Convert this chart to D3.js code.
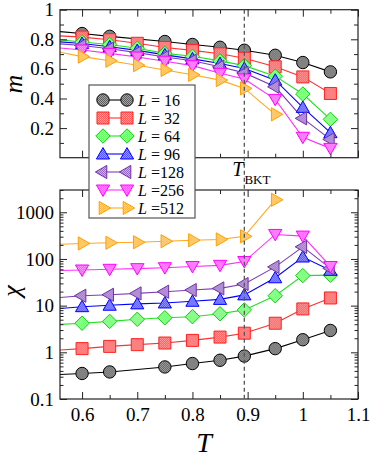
<!DOCTYPE html>
<html>
<head>
    <title>m and chi vs T</title>
    <script src="https://cdn.jsdelivr.net/npm/d3@7/dist/d3.min.js"></script>
    <style>
        body { margin: 0; background: #fff; }
        svg text { font-family: "Liberation Serif", Tinos, "Times New Roman", serif; fill: #000; }
    </style>
</head>
<body>
    <svg width="374" height="458" id="mainSvg"></svg>
    <script>
        // temperatures (first one lies left of the visible window)
        const temps = [0.55, 0.6, 0.65, 0.7, 0.75, 0.8, 0.85, 0.894, 0.95, 1.0, 1.05];
        const sizes = [16, 32, 64, 96, 128, 256, 512];
        const tBKT = 0.894;

        // magnetisation m(T)
        const m16  = [0.855, 0.839, 0.82, null, 0.785, 0.765, 0.746, 0.726, 0.692, 0.643, 0.58];
        const m32  = [0.825, 0.815, 0.797, 0.773, 0.745, 0.725, 0.702, 0.672, 0.614, 0.546, 0.434];
        const m64  = [0.80, 0.782, 0.765, 0.74, 0.705, 0.685, 0.654, 0.622, 0.551, 0.43, 0.259];
        const m96  = [0.785, 0.772, 0.75, 0.725, 0.695, 0.668, 0.636, 0.603, 0.524, 0.34, 0.169];
        const m128 = [0.772, 0.758, 0.736, 0.71, 0.68, 0.655, 0.614, 0.573, 0.479, 0.266, 0.124];
        const m256 = [0.745, 0.728, 0.705, 0.68, 0.652, 0.622, 0.57, 0.532, 0.394, 0.138, 0.063];
        const m512 = [0.72, 0.683, 0.655, 0.625, 0.593, 0.56, 0.524, 0.468, 0.293, null, null];

        // susceptibility chi(T)
        const c16  = [0.33, 0.352, 0.38, null, 0.486, 0.575, 0.676, 0.83, 1.2, 1.86, 2.94];
        const c32  = [1.1, 1.2, 1.34, 1.46, 1.58, 1.8, 2.12, 2.57, 4.2, 8.5, 14.6];
        const c64  = [3.9, 4.2, 4.6, 5.1, 5.5, 5.8, 6.7, 8.1, 16.3, 44, 45];
        const c96  = [8.5, 9.5, 10.2, 10.9, 11.4, 12.4, 13.6, 17, 39.5, 110, 57];
        const c128 = [14.6, 16.3, 17.1, 18.3, 19.9, 21.6, 23.4, 29, 67.6, 182, 63];
        const c256 = [56, 58, 60, 62, 65, 69, 73, 88, 335, 309, 69];
        const c512 = [205, 215, 222, 228, 240, 252, 262, 305, 1850, null, null];

        const mSeries = [m16, m32, m64, m96, m128, m256, m512];
        const cSeries = [c16, c32, c64, c96, c128, c256, c512];

        const shapes = ["circle", "square", "diamond", "up", "left", "down", "right"];
        const lineColors   = ["#000000", "#ff3030", "#22e022", "#0000ff", "#7a3fb8", "#ff30ff", "#ffa820"];
        const strokeColors = ["#000000", "#ff2020", "#11cc11", "#0000ff", "#7030a0", "#ff00ff", "#ffa000"];
        const fillColors   = ["#5e5e5e", "#ff5a5a", "#66ff66", "#5050ff", "#9a6ccc", "#ff55ff", "#ffb840"];

        const serif = '"Liberation Serif", Tinos, "Times New Roman", serif';
        const mainSvg = d3.select("#mainSvg").attr("font-family", serif);
        const left = 60, right = 358;
        const x = d3.scaleLinear().domain([0.56, 1.1]).range([left, right]);
        const yTop = d3.scaleLinear().domain([0, 1]).range([157.7, 9.7]);
        const yBot = d3.scaleLog().domain([0.1, 3000]).range([399, 190]);

        // dithered marker fills
        const defs = mainSvg.append("defs");
        fillColors.forEach((c, i) => {
            const p = defs.append("pattern").attr("id", "dith" + i)
                .attr("width", 2).attr("height", 2).attr("patternUnits", "userSpaceOnUse");
            p.append("rect").attr("width", 2).attr("height", 2).attr("fill", c);
            const light = d3.interpolateRgb(c, "#ffffff")(0.45);
            p.append("rect").attr("width", 1).attr("height", 1).attr("fill", light);
            p.append("rect").attr("x", 1).attr("y", 1).attr("width", 1).attr("height", 1).attr("fill", light);
        });

        function symbol(shape) {
            const r = 6.2, t = 7.6;
            const p = d3.path();
            if (shape === "circle") { p.arc(0, 0, r, 0, 2 * Math.PI); }
            else if (shape === "square") { p.rect(-6, -6, 12, 12); }
            else if (shape === "diamond") { p.moveTo(0, -7.2); p.lineTo(7.2, 0); p.lineTo(0, 7.2); p.lineTo(-7.2, 0); p.closePath(); }
            else {
                const rot = { up: -90, right: 0, down: 90, left: 180 }[shape] * Math.PI / 180;
                [0, 1, 2].forEach(k => {
                    const a = rot + k * 2 * Math.PI / 3;
                    const px = t * Math.cos(a), py = t * Math.sin(a) + (shape === "up" ? 1.2 : shape === "down" ? -1.2 : 0);
                    k === 0 ? p.moveTo(px, py) : p.lineTo(px, py);
                });
                p.closePath();
            }
            return p.toString();
        }

        function panel(yScale, series, id, y0, y1, labelX) {
            const g = mainSvg.append("g");
            defs.append("clipPath").attr("id", id).append("rect")
                .attr("x", left).attr("y", y1).attr("width", right - left).attr("height", y0 - y1);

            const plot = g.append("g").attr("clip-path", `url(#${id})`);
            series.forEach((vals, i) => {
                const pts = temps.map((t, j) => [t, vals[j]]).filter(d => d[1] !== null);
                plot.append("path")
                    .attr("d", d3.line().x(d => x(d[0])).y(d => yScale(d[1]))(pts))
                    .attr("fill", "none").attr("stroke", lineColors[i]).attr("stroke-width", 1.1);
            });
            series.forEach((vals, i) => {
                const pts = temps.map((t, j) => [t, vals[j]])
                    .filter(d => d[1] !== null && d[0] >= x.domain()[0]);
                plot.selectAll(null).data(pts).join("path")
                    .attr("transform", d => `translate(${x(d[0])},${yScale(d[1])})`)
                    .attr("d", symbol(shapes[i]))
                    .attr("fill", `url(#dith${i})`)
                    .attr("stroke", strokeColors[i]).attr("stroke-width", 1);
            });

            // axes, ticks pointing inward
            const xMajor = [0.6, 0.7, 0.8, 0.9, 1.0, 1.1];
            const xMinor = [0.65, 0.75, 0.85, 0.95, 1.05];
            const fmtX = d3.format("~g");
            const addAxis = (axis, tr, showLabels) => {
                const a = g.append("g").attr("transform", tr).call(axis).attr("font-family", serif);
                a.select(".domain").remove();
                a.selectAll("line").attr("stroke", "#222");
                if (!showLabels) a.selectAll("text").remove();
                else a.selectAll("text").attr("font-size", 19).attr("fill", "#000");
                return a;
            };
            addAxis(d3.axisBottom(x).tickValues(xMajor).tickSize(-7).tickPadding(9).tickFormat(fmtX), `translate(0,${y0})`, labelX);
            addAxis(d3.axisBottom(x).tickValues(xMinor).tickSize(-4).tickFormat(""), `translate(0,${y0})`, false);
            addAxis(d3.axisTop(x).tickValues(xMajor).tickSize(-7), `translate(0,${y1})`, false);
            addAxis(d3.axisTop(x).tickValues(xMinor).tickSize(-4), `translate(0,${y1})`, false);

            g.append("rect").attr("x", left).attr("y", y1).attr("width", right - left).attr("height", y0 - y1)
                .attr("fill", "none").attr("stroke", "#222").attr("stroke-width", 1.2);
            return { g, addAxis };
        }

        // top panel: m
        const topPanel = panel(yTop, mSeries, "clipTop", 157.7, 9.7, false);
        const mMajor = [0.2, 0.4, 0.6, 0.8, 1.0];
        const mMinor = [0.1, 0.3, 0.5, 0.7, 0.9];
        const fmtM = d => d === 1 ? "1" : d3.format(".1f")(d);
        topPanel.addAxis(d3.axisLeft(yTop).tickValues(mMajor).tickSize(-7).tickPadding(6).tickFormat(fmtM), `translate(${left},0)`, true);
        topPanel.addAxis(d3.axisLeft(yTop).tickValues(mMinor).tickSize(-4), `translate(${left},0)`, false);
        topPanel.addAxis(d3.axisRight(yTop).tickValues(mMajor).tickSize(-7), `translate(${right},0)`, false);
        topPanel.addAxis(d3.axisRight(yTop).tickValues(mMinor).tickSize(-4), `translate(${right},0)`, false);

        // bottom panel: chi
        const botPanel = panel(yBot, cSeries, "clipBot", 399, 190, true);
        const cMajor = [0.1, 1, 10, 100, 1000];
        const cMinor = [];
        [0.1, 1, 10, 100, 1000].forEach(dec => d3.range(2, 10).forEach(k => { if (dec * k <= 3000) cMinor.push(dec * k); }));
        const fmtC = d => d < 1 ? "0.1" : String(d);
        botPanel.addAxis(d3.axisLeft(yBot).tickValues(cMajor).tickSize(-7).tickPadding(6).tickFormat(fmtC), `translate(${left},0)`, true);
        botPanel.addAxis(d3.axisLeft(yBot).tickValues(cMinor).tickSize(-3.5).tickFormat(""), `translate(${left},0)`, false);
        botPanel.addAxis(d3.axisRight(yBot).tickValues(cMajor).tickSize(-7), `translate(${right},0)`, false);
        botPanel.addAxis(d3.axisRight(yBot).tickValues(cMinor).tickSize(-3.5).tickFormat(""), `translate(${right},0)`, false);

        // T_BKT dashed line through both panels
        mainSvg.append("line")
            .attr("x1", x(tBKT)).attr("x2", x(tBKT)).attr("y1", 9.7).attr("y2", 399)
            .attr("stroke", "#555").attr("stroke-width", 1.3).attr("stroke-dasharray", "4,3");
        const tb = mainSvg.append("text").attr("x", x(tBKT) - 12).attr("y", 176).attr("font-size", 20);
        tb.append("tspan").attr("font-style", "italic").text("T");
        tb.append("tspan").attr("font-size", 13).attr("dy", 8).attr("dx", 1).text("BKT");

        // axis titles
        mainSvg.append("text").attr("transform", "translate(22,84) rotate(-90)")
            .attr("text-anchor", "middle").attr("font-size", 26).attr("font-style", "italic").text("m");
        mainSvg.append("text").attr("transform", "translate(20,291) rotate(-90)")
            .attr("text-anchor", "middle").attr("font-size", 26).attr("font-style", "italic").text("χ");
        mainSvg.append("text").attr("x", (left + right) / 2 - 5).attr("y", 452)
            .attr("text-anchor", "middle").attr("font-size", 28).attr("font-style", "italic").text("T");

        // legend
        const leg = mainSvg.append("g");
        leg.append("rect").attr("x", 89).attr("y", 85).attr("width", 106).attr("height", 133)
            .attr("fill", "#fff").attr("stroke", "#555").attr("stroke-width", 1.2);
        sizes.forEach((L, i) => {
            const yy = 100 + i * 18;
            leg.append("line").attr("x1", 103).attr("x2", 127).attr("y1", yy).attr("y2", yy)
                .attr("stroke", lineColors[i]).attr("stroke-width", 1.1);
            [103, 127].forEach(xx => leg.append("path")
                .attr("transform", `translate(${xx},${yy})`).attr("d", symbol(shapes[i]))
                .attr("fill", `url(#dith${i})`).attr("stroke", strokeColors[i]).attr("stroke-width", 1));
            const t = leg.append("text").attr("x", 138).attr("y", yy + 5.5).attr("font-size", 16);
            t.append("tspan").attr("font-style", "italic").text("L");
            t.append("tspan").text(L < 100 ? " = " + L : " =" + L);
        });
    </script>
</body>
</html>
